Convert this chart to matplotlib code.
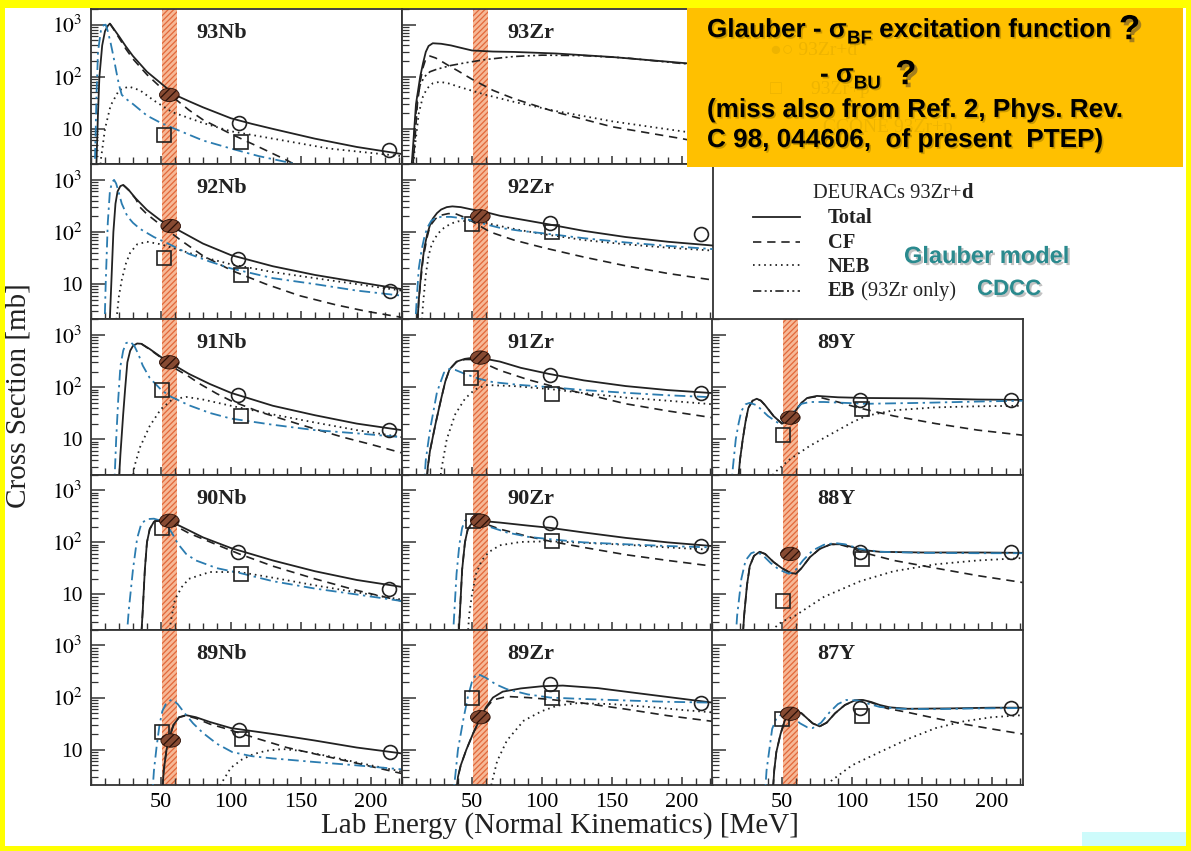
import matplotlib
matplotlib.use("Agg")
import matplotlib.pyplot as plt
import matplotlib.patheffects as pe
from matplotlib.lines import Line2D
from matplotlib.patches import Rectangle
from matplotlib.path import Path
from matplotlib.transforms import Affine2D
from matplotlib.ticker import FixedLocator, MultipleLocator, LogLocator, NullFormatter

plt.rcParams['mathtext.fontset'] = 'stix'
plt.rcParams['hatch.linewidth'] = 0.9

SERIF = 'Liberation Serif'
SANS = 'Liberation Sans'

# ---- excitation functions, (E_lab [MeV], sigma [mb]) ----
nb93_total = [(3.5, 1), (5, 20), (6, 100), (8, 400), (10, 750), (12, 950), (13.5, 1050), (16, 850), (20, 600),
              (25, 380), (30, 250), (40, 125), (50, 75), (60, 45), (70, 34), (80, 26), (100, 16), (115, 12.5),
              (130, 10), (160, 6.5), (190, 4.5), (222, 3.3)]
nb93_cf = [(13.5, 1050), (16, 830), (20, 560), (25, 340), (30, 220), (40, 110), (50, 62), (60, 38), (70, 23),
           (80, 15), (100, 8), (120, 4.5), (140, 2.5), (150, 1.8)]
nb93_neb = [(6, 1), (7, 2.5), (10, 10), (14, 28), (20, 55), (27, 65), (35, 55), (45, 35), (58, 21), (80, 13),
            (100, 9), (130, 6.5), (170, 4.2), (222, 3)]
nb93_glauber = [(2.5, 1), (4, 50), (5, 300), (7, 750), (9, 980), (10.5, 1000), (12, 750), (14, 450), (16, 250),
                (18, 130), (20, 70), (22, 45), (26, 36), (30, 30), (40, 18), (50, 13), (60, 10), (80, 6),
                (100, 4.2), (120, 3), (140, 2.3), (150, 2)]
nb93_circ = [(106, 13), (213, 4)]
nb93_sq = [(52, 7.5), (107, 5.5)]
nb93_band = [(56, 45)]

zr93_total = [(6, 1), (8, 5), (10, 30), (13, 100), (15, 180), (17, 300), (19, 390), (22, 440), (28, 430),
              (35, 400), (42, 360), (50, 320), (65, 305), (80, 300), (110, 280), (150, 240), (200, 185), (222, 165)]
zr93_cf = [(7, 1), (9, 5), (11, 30), (13, 80), (15, 150), (17, 220), (20, 250), (24, 230), (28, 200), (34, 160),
           (40, 130), (50, 90), (65, 55), (80, 38), (110, 21), (150, 11), (200, 6.5), (222, 5)]
zr93_neb = [(7.5, 1), (9, 4), (12, 20), (15, 42), (18, 60), (22, 75), (27, 80), (33, 75), (40, 65), (50, 54),
            (60, 45), (80, 33), (110, 22), (150, 14), (200, 9), (222, 7.5)]
zr93_eb = [(7.5, 1), (9, 10), (11, 40), (13, 70), (16, 100), (20, 125), (25, 140), (35, 165), (45, 185), (60, 215),
           (80, 245), (100, 260), (130, 255), (160, 230), (200, 180), (222, 165)]

nb92_total = [(13, 1), (14.5, 10), (16, 100), (17.5, 350), (19, 600), (21, 760), (23, 800), (25, 720), (27, 640),
              (29, 550), (32, 440), (40, 265), (50, 165), (56, 135), (60, 118), (80, 60), (100, 36), (130, 22),
              (160, 15), (190, 11), (222, 8)]
nb92_cf = [(23, 800), (27, 630), (32, 430), (35, 300), (40, 220), (50, 135), (64, 70), (80, 35), (101, 18),
           (125, 10), (149, 6), (175, 4), (197, 3), (222, 2.3)]
nb92_neb = [(17, 1), (18.5, 2.5), (20, 6), (22, 12), (25, 25), (28, 40), (33, 58), (40, 65), (50, 58), (60, 48),
            (80, 33), (100, 24), (130, 17), (160, 13), (190, 10), (222, 7.5)]
nb92_glauber = [(9.5, 1), (10.5, 10), (12, 150), (13.5, 600), (15, 900), (16.5, 1000), (18, 850), (20, 550),
                (22, 350), (26, 200), (30, 150), (35, 115), (45, 80), (55, 60), (70, 38), (85, 27), (100, 20),
                (130, 13), (160, 10), (190, 7.5), (222, 6)]
nb92_circ = [(105, 30), (214, 7.5)]
nb92_sq = [(52, 32), (107, 15)]
nb92_band = [(57, 130)]

zr92_total = [(10.5, 1), (12, 5), (14, 20), (16, 50), (18, 90), (20, 135), (22, 180), (25, 230), (28, 270),
              (32, 300), (36, 310), (42, 300), (50, 270), (60, 240), (70, 205), (90, 165), (105, 140), (130, 105),
              (160, 80), (190, 65), (222, 55)]
zr92_cf = [(10.5, 1), (12, 5), (15, 30), (18, 80), (20, 130), (24, 180), (28, 210), (33, 225), (38, 225),
           (45, 190), (50, 160), (63, 100), (80, 70), (101, 50), (130, 33), (158, 23), (190, 16), (222, 12)]
zr92_neb = [(13.5, 1), (15, 4), (17, 15), (19, 35), (21, 55), (23, 72), (26, 95), (30, 120), (35, 145), (40, 160),
            (50, 165), (60, 150), (70, 130), (85, 108), (100, 92), (130, 70), (160, 58), (190, 50), (222, 44)]
zr92_glauber = [(9, 1), (10.5, 5), (12, 20), (14, 45), (16, 80), (18, 120), (21, 165), (24, 185), (28, 195),
                (35, 195), (42, 185), (51, 165), (60, 140), (70, 120), (85, 105), (100, 95), (130, 76), (160, 63),
                (190, 54), (222, 47)]
zr92_circ = [(106, 150), (214, 90)]
zr92_sq = [(50, 140), (107, 100)]
zr92_band = [(56, 200)]

nb91_total = [(19.5, 1), (21, 5), (23, 30), (24.5, 100), (26, 300), (28, 500), (30, 620), (33, 690), (36, 680),
              (42, 540), (50, 380), (56, 300), (70, 180), (85, 115), (100, 78), (130, 44), (160, 29), (190, 20),
              (222, 15)]
nb91_cf = [(36, 680), (42, 530), (50, 370), (56, 280), (60, 230), (70, 160), (78, 115), (90, 75), (100, 55),
           (120, 34), (150, 19), (180, 11), (200, 8), (222, 5.5)]
nb91_neb = [(29, 1), (31, 3), (35, 7), (42, 18), (50, 38), (58, 58), (68, 65), (80, 58), (100, 44), (130, 30),
            (160, 21), (190, 15), (222, 11)]
nb91_glauber = [(16.5, 1), (18, 10), (19.5, 60), (21, 250), (23, 500), (25, 700), (28, 750), (31, 620), (34, 420),
                (37, 260), (42, 150), (50, 90), (56, 68), (70, 45), (85, 32), (100, 25), (130, 19), (160, 15),
                (190, 13), (222, 11)]
nb91_circ = [(105, 70), (213, 15)]
nb91_sq = [(51, 90), (107, 28)]
nb91_band = [(56, 300)]

zr91_total = [(17, 1), (18.5, 3), (20, 6), (24, 20), (28, 60), (31, 130), (34, 220), (39, 310), (45, 350),
              (50, 365), (56, 365), (70, 310), (85, 235), (105, 180), (130, 135), (160, 105), (190, 88), (222, 77)]
zr91_cf = [(17, 1), (18.5, 3), (20, 6), (24, 20), (28, 60), (31, 130), (34, 220), (39, 305), (45, 340), (50, 340),
           (56, 310), (70, 210), (90, 140), (106, 107), (130, 75), (160, 48), (190, 35), (222, 26)]
zr91_neb = [(26.5, 1), (28, 2.5), (32, 10), (38, 30), (45, 60), (52, 90), (60, 110), (80, 105), (106, 92),
            (130, 77), (160, 63), (190, 55), (222, 47)]
zr91_glauber = [(15.5, 1), (17, 4), (20, 15), (25, 80), (30, 190), (34, 225), (38, 215), (45, 180), (55, 145),
                (65, 125), (85, 110), (106, 100), (130, 88), (160, 78), (190, 70), (222, 64)]
zr91_circ = [(106, 175), (214, 78)]
zr91_sq = [(49, 150), (107, 75)]
zr91_band = [(56, 370)]

y89_total = [(18, 1), (20, 4), (22, 10), (24, 22), (26, 40), (29, 55), (32, 60), (35, 55), (38, 45), (44, 28),
             (50, 20), (56, 25), (60, 36), (64, 50), (68, 62), (75, 68), (90, 64), (110, 62), (150, 61), (190, 58),
             (222, 57)]
y89_cf = [(18, 1), (20, 4), (22, 10), (24, 22), (26, 40), (29, 55), (32, 60), (35, 55), (38, 45), (44, 28),
          (50, 20), (56, 25), (60, 36), (64, 50), (68, 62), (75, 66), (90, 52), (105, 40), (130, 28), (160, 20),
          (190, 15), (222, 12)]
y89_neb = [(40, 1), (44, 2.2), (55, 4), (70, 7.5), (86, 13), (100, 21), (110, 28), (130, 36), (160, 41), (190, 43),
           (222, 44)]
y89_glauber = [(13.5, 1), (15, 3), (17, 10), (19, 20), (21, 35), (24, 47), (27, 50), (32, 45), (40, 28), (48, 20),
               (55, 25), (60, 38), (64, 48), (70, 52), (80, 52), (110, 48), (150, 50), (190, 53), (222, 55)]
y89_circ = [(106, 56), (214, 57)]
y89_sq = [(51, 12), (107, 38)]
y89_band = [(56, 26)]

nb90_total = [(35.5, 1), (37, 5), (38.5, 30), (40, 100), (42, 180), (45, 250), (50, 270), (55, 265), (60, 230),
              (70, 170), (80, 125), (100, 78), (130, 45), (160, 28), (190, 19), (222, 14)]
nb90_cf = [(35.5, 1), (37, 5), (38.5, 30), (40, 100), (42, 180), (45, 250), (50, 265), (55, 250), (60, 210),
           (70, 150), (90, 90), (106, 60), (130, 35), (160, 20), (190, 12), (222, 7.5)]
nb90_neb = [(55, 1), (57, 3), (60, 8), (65, 14), (70, 20), (85, 27), (106, 27), (130, 21), (160, 15), (190, 11),
            (222, 8)]
nb90_glauber = [(25, 1), (27, 5), (30, 30), (33, 120), (36, 230), (40, 280), (45, 285), (50, 260), (54, 220),
                (58, 150), (62, 95), (68, 60), (75, 45), (90, 32), (106, 26), (130, 18), (160, 13), (190, 10),
                (222, 7.5)]
nb90_circ = [(105, 65), (213, 13)]
nb90_sq = [(51, 190), (107, 25)]
nb90_band = [(56, 260)]

zr90_total = [(40, 1), (41.5, 5), (43, 30), (45, 100), (47, 180), (50, 235), (56, 260), (70, 240), (90, 210),
              (106, 190), (130, 155), (160, 122), (190, 100), (222, 85)]
zr90_cf = [(40, 1), (41.5, 5), (43, 30), (45, 100), (47, 175), (50, 220), (56, 245), (70, 180), (90, 130),
           (106, 105), (130, 80), (160, 58), (190, 45), (222, 35)]
zr90_neb = [(46.5, 1), (48, 4), (50, 10), (53, 25), (57, 45), (62, 65), (70, 88), (85, 102), (106, 105), (130, 98),
            (160, 90), (190, 80), (222, 72)]
zr90_glauber = [(36, 1), (37.5, 5), (39, 25), (41, 90), (43, 190), (45, 260), (48, 290), (52, 280), (60, 210),
                (75, 155), (90, 128), (106, 115), (130, 100), (160, 92), (190, 85), (222, 80)]
zr90_circ = [(106, 235), (214, 85)]
zr90_sq = [(51, 260), (107, 105)]
zr90_band = [(56, 260)]

y88_total = [(21.5, 1), (23, 4), (25, 15), (27, 35), (30, 55), (34, 66), (38, 60), (44, 42), (50, 32), (56, 26),
             (60, 25), (64, 32), (70, 52), (77, 75), (85, 92), (92, 92), (100, 82), (106, 72), (120, 66), (150, 64),
             (190, 64), (222, 63)]
y88_cf = [(21.5, 1), (23, 4), (25, 15), (27, 35), (30, 55), (34, 66), (38, 60), (44, 42), (50, 32), (56, 26),
          (60, 25), (64, 32), (70, 52), (77, 75), (85, 92), (92, 90), (100, 78), (106, 66), (130, 45), (160, 32),
          (190, 23), (222, 17)]
y88_neb = [(39, 1), (42, 2), (50, 3), (60, 4), (80, 9), (106, 18), (130, 28), (160, 38), (190, 45), (222, 50)]
y88_glauber = [(16.5, 1), (18, 4), (21, 20), (24, 45), (28, 62), (31, 66), (36, 58), (42, 40), (48, 30), (55, 25),
               (60, 30), (65, 45), (72, 70), (80, 90), (88, 97), (95, 92), (106, 75), (120, 66), (150, 63),
               (190, 62), (222, 62)]
y88_circ = [(106, 66), (214, 64)]
y88_sq = [(51, 7.5), (107, 47)]
y88_band = [(56, 60)]

nb89_total = [(50.5, 1), (52, 4), (54, 10), (56, 17), (59, 30), (63, 42), (68, 46), (75, 42), (85, 34), (100, 26),
              (130, 20), (160, 15), (190, 11), (222, 8.5)]
nb89_cf = [(50.5, 1), (52, 4), (54, 10), (56, 17), (59, 30), (63, 42), (68, 45), (75, 40), (85, 31), (95, 26),
           (106, 21), (120, 16), (140, 11), (160, 8.3), (190, 5.5), (222, 3.5)]
nb89_neb = [(89, 1), (92, 2), (100, 4.5), (108, 6.5), (116, 8.2), (125, 9.5), (137, 10.3), (150, 9.5), (170, 7.5),
            (190, 5.7), (222, 3.8)]
nb89_glauber = [(43.5, 1), (45, 4), (47, 12), (49, 30), (51, 55), (54, 80), (58, 92), (62, 75), (67, 50), (73, 32),
                (80, 21), (90, 13), (101, 9), (115, 7.5), (130, 6.8), (160, 5.8), (190, 5), (222, 4.2)]
nb89_circ = [(106, 24), (214, 9)]
nb89_sq = [(51, 22), (108, 16)]
nb89_band = [(57, 15)]

zr89_total = [(38.5, 1), (40, 3), (42, 5), (46, 10), (51, 21), (56, 40), (60, 65), (65, 100), (72, 130),
              (85, 150), (100, 165), (115, 170), (140, 152), (170, 120), (200, 95), (222, 80)]
zr89_cf = [(38.5, 1), (40, 3), (42, 5), (46, 10), (51, 21), (56, 40), (60, 62), (65, 90), (75, 105), (90, 100),
           (106, 92), (130, 78), (160, 60), (190, 45), (222, 35)]
zr89_neb = [(62, 1), (64, 2.2), (68, 6), (75, 15), (87, 36), (100, 55), (111, 70), (125, 78), (150, 75),
            (180, 65), (200, 58), (222, 52)]
zr89_glauber = [(36, 1), (38, 3), (40, 10), (44, 40), (47, 100), (50, 200), (53, 280), (56, 270), (60, 240),
                (67, 180), (75, 145), (90, 115), (106, 100), (130, 94), (160, 88), (190, 83), (222, 80)]
zr89_circ = [(106, 185), (214, 80)]
zr89_sq = [(50, 100), (107, 98)]
zr89_band = [(56, 42)]

y87_total = [(43, 1), (44.5, 4), (46, 9), (49, 20), (52, 36), (56, 50), (60, 55), (64, 50), (68, 40), (72, 32),
             (77, 28), (82, 33), (88, 50), (95, 72), (102, 88), (108, 90), (114, 82), (120, 72), (127, 65),
             (140, 61), (170, 62), (200, 64), (222, 64)]
y87_cf = [(43, 1), (44.5, 4), (46, 9), (49, 20), (52, 36), (56, 50), (60, 55), (64, 50), (68, 40), (72, 32),
          (77, 28), (82, 33), (88, 50), (95, 72), (102, 88), (108, 90), (114, 80), (125, 62), (140, 52), (160, 40),
          (180, 31), (200, 25), (222, 20)]
y87_neb = [(79, 1), (85, 2.5), (100, 5), (120, 9), (140, 16), (160, 26), (180, 35), (200, 42), (222, 46)]
y87_glauber = [(37.5, 1), (39, 4), (41, 10), (43, 25), (46, 40), (50, 48), (54, 50), (58, 42), (63, 32), (68, 27),
               (72, 26), (78, 33), (84, 52), (90, 75), (96, 90), (104, 88), (112, 76), (120, 66), (135, 61),
               (160, 60), (190, 62), (222, 63)]
y87_circ = [(106, 63), (214, 64)]
y87_sq = [(50, 38), (107, 45)]
y87_band = [(56, 49)]

# name, row, col, total, cf, neb, glauber, eb, circles, squares, band point
panels = [
    ("93Nb", 0, 0, nb93_total, nb93_cf, nb93_neb, nb93_glauber, None, nb93_circ, nb93_sq, nb93_band),
    ("93Zr", 0, 1, zr93_total, zr93_cf, zr93_neb, None, zr93_eb, [], [], []),
    ("92Nb", 1, 0, nb92_total, nb92_cf, nb92_neb, nb92_glauber, None, nb92_circ, nb92_sq, nb92_band),
    ("92Zr", 1, 1, zr92_total, zr92_cf, zr92_neb, zr92_glauber, None, zr92_circ, zr92_sq, zr92_band),
    ("91Nb", 2, 0, nb91_total, nb91_cf, nb91_neb, nb91_glauber, None, nb91_circ, nb91_sq, nb91_band),
    ("91Zr", 2, 1, zr91_total, zr91_cf, zr91_neb, zr91_glauber, None, zr91_circ, zr91_sq, zr91_band),
    ("89Y", 2, 2, y89_total, y89_cf, y89_neb, y89_glauber, None, y89_circ, y89_sq, y89_band),
    ("90Nb", 3, 0, nb90_total, nb90_cf, nb90_neb, nb90_glauber, None, nb90_circ, nb90_sq, nb90_band),
    ("90Zr", 3, 1, zr90_total, zr90_cf, zr90_neb, zr90_glauber, None, zr90_circ, zr90_sq, zr90_band),
    ("88Y", 3, 2, y88_total, y88_cf, y88_neb, y88_glauber, None, y88_circ, y88_sq, y88_band),
    ("89Nb", 4, 0, nb89_total, nb89_cf, nb89_neb, nb89_glauber, None, nb89_circ, nb89_sq, nb89_band),
    ("89Zr", 4, 1, zr89_total, zr89_cf, zr89_neb, zr89_glauber, None, zr89_circ, zr89_sq, zr89_band),
    ("87Y", 4, 2, y87_total, y87_cf, y87_neb, y87_glauber, None, y87_circ, y87_sq, y87_band),
]

x_ticks = [50, 100, 150, 200]
y_ticks = [10, 100, 1000]
y_ticklabels = ['10', r'$10^2$', r'$10^3$']
band_range = (51, 61.5)

W, H = 1191, 851
COL_X = [91, 402, 712]
ROW_Y = [9, 164.2, 319.4, 474.6, 629.8]
PW, PH = 310.5, 155.2

INK = '#222222'
BLUE = '#2b7cb0'
STYLE_TOTAL = dict(color=INK, lw=1.3, ls='-')
STYLE_CF = dict(color=INK, lw=1.2, ls=(0, (5, 3.5)))
STYLE_NEB = dict(color=INK, lw=1.3, ls=(0, (0.9, 2.2)))
STYLE_GL = dict(color=BLUE, lw=1.3, ls=(0, (6, 2.5, 1.3, 2.5)))
STYLE_EB = dict(color=INK, lw=1.2, ls=(0, (5, 2, 1.2, 2, 1.2, 2)))

ellipse_marker = Path.unit_circle().transformed(Affine2D().scale(1.0, 0.68))


def curve(ax, pts, style):
    if not pts:
        return
    e, v = zip(*pts)
    ax.plot(e, v, zorder=3, **style)


fig = plt.figure(figsize=(W / 100, H / 100), dpi=100, facecolor='white')

for name, r, c, tot, cf, neb, gl, eb, circ, sq, band in panels:
    ax = fig.add_axes([COL_X[c] / W, 1 - (ROW_Y[r] + PH) / H, PW / W, PH / H])
    ax.set_yscale('log')
    ax.set_xlim(0, 222)
    ax.set_ylim(2.1, 2000)
    ax.axvspan(*band_range, facecolor='#f6b896', edgecolor='#e2683a', hatch='//////', lw=0, zorder=1)

    curve(ax, tot, STYLE_TOTAL)
    curve(ax, cf, STYLE_CF)
    curve(ax, neb, STYLE_NEB)
    curve(ax, gl, STYLE_GL)
    curve(ax, eb, STYLE_EB)

    if circ:
        e, v = zip(*circ)
        ax.plot(e, v, 'o', mfc='none', mec=INK, ms=10, mew=1.2, zorder=4, clip_on=False)
    if sq:
        e, v = zip(*sq)
        ax.plot(e, v, 's', mfc='none', mec=INK, ms=9.5, mew=1.2, zorder=4)
    if band:
        e, v = zip(*band)
        ax.scatter(e, v, s=200, marker=ellipse_marker, facecolor='#874a32', edgecolor='#2a1008',
                   hatch='////', linewidths=0.6, zorder=5)

    ax.text(0.34, 0.845, name, transform=ax.transAxes, family=SERIF, fontweight='bold',
            fontsize=16, va='center', ha='left', color=INK)

    ax.xaxis.set_major_locator(FixedLocator(x_ticks))
    ax.xaxis.set_minor_locator(MultipleLocator(10))
    ax.yaxis.set_major_locator(FixedLocator(y_ticks))
    ax.yaxis.set_minor_locator(LogLocator(base=10, subs=range(2, 10), numticks=20))
    ax.yaxis.set_minor_formatter(NullFormatter())
    ax.tick_params(which='both', direction='in', top=False, right=False, color='#333333')
    ax.tick_params(axis='x', which='major', length=6, width=1.1)
    ax.tick_params(axis='x', which='minor', length=5, width=1.0)
    ax.tick_params(axis='y', which='major', length=10, width=1.1)
    ax.tick_params(axis='y', which='minor', length=5, width=0.9)
    for sp in ax.spines.values():
        sp.set_linewidth(1.3)
        sp.set_color('#333333')

    if r == 4:
        ax.set_xticklabels([str(t) for t in x_ticks], family=SERIF, fontsize=16)
        ax.tick_params(axis='x', pad=6)
    else:
        ax.set_xticklabels([])
    if c == 0:
        ax.set_yticklabels(y_ticklabels, family=SERIF, fontsize=15.5)
        ax.tick_params(axis='y', pad=6)
    else:
        ax.set_yticklabels([])

fig.text(560 / W, 1 - 826 / H, 'Lab Energy (Normal Kinematics) [MeV]', family=SERIF, fontsize=21,
         ha='center', va='center', color=INK)
fig.text(19 / W, 1 - 396 / H, 'Cross Section [mb]', family=SERIF, fontsize=21, rotation=90,
         ha='center', va='center', color=INK)

# ---- slide overlay in pixel coordinates ----
ov = fig.add_axes([0, 0, 1, 1], zorder=10)
ov.set_xlim(0, W)
ov.set_ylim(H, 0)
ov.axis('off')

# DEURACs legend
head = ov.text(813, 198, 'DEURACs 93Zr+', family=SERIF, fontsize=14.8, color=INK, va='baseline')
ov.annotate('d', xy=(1, 0), xycoords=head, family=SERIF, fontsize=14.8, fontweight='bold',
            color=INK, va='bottom')
legend_rows = [
    (216.5, STYLE_TOTAL, 'Total', 223),
    (242, STYLE_CF, 'CF', 248),
    (264.5, STYLE_NEB, 'NEB', 272),
    (291, STYLE_EB, 'EB', 296),
]
for ly, st, lab, base in legend_rows:
    ov.add_line(Line2D([753, 800], [ly, ly], **st))
    t = ov.text(828, base, lab, family=SERIF, fontsize=14.8, fontweight='bold', color=INK, va='baseline')
ov.annotate(' (93Zr only)', xy=(1, 0), xycoords=t, family=SERIF, fontsize=14.8, color=INK, va='bottom')

teal_fx = [pe.SimplePatchShadow(offset=(1.5, -1.5), shadow_rgbFace='#9a9a9a', alpha=0.6), pe.Normal()]
ov.text(904, 263, 'Glauber model', family=SANS, fontweight='bold', fontsize=17, color='#2a8a8e',
        va='baseline', path_effects=teal_fx)
ov.text(977, 295, 'CDCC', family=SANS, fontweight='bold', fontsize=16, color='#2a8a8e',
        va='baseline', path_effects=teal_fx)

# orange note box, with the data legend faintly showing through
ov.add_patch(Rectangle((687, 7), 496, 160, facecolor='#ffc000', edgecolor='none', zorder=2))
ghost = '#eeb400'
ov.text(770, 55, '●○ 93Zr+d', family=SERIF, fontsize=14, color=ghost, va='baseline', zorder=3)
ov.text(770, 94, '□      93Zr+p', family=SERIF, fontsize=14, color=ghost, va='baseline', zorder=3)
ov.text(823, 132, 'CCONE 93Zr+p', family=SERIF, fontsize=14, color=ghost, va='baseline', zorder=3)

note_fx = [pe.SimplePatchShadow(offset=(1.2, -1.2), shadow_rgbFace='#8a6a00', alpha=0.45), pe.Normal()]
q_fx = [pe.SimplePatchShadow(offset=(2.2, -2.2), shadow_rgbFace='#6a5530', alpha=0.6), pe.Normal()]
note = dict(family=SANS, fontweight='bold', color='black', zorder=4)
NOTE_SIZE = 18.8


def chain(x, y, pieces):
    prev = ov.text(x, y, pieces[0][0], fontsize=pieces[0][1], va='baseline', path_effects=note_fx, **note)
    for txt, size, dy, fx in pieces[1:]:
        prev = ov.annotate(txt, xy=(1, 0), xycoords=prev, xytext=(0, dy), textcoords='offset points',
                           fontsize=size, va='bottom', path_effects=fx, **note)


chain(707, 37, [('Glauber - σ', NOTE_SIZE), ('BF', 13.5, -4, note_fx),
                (' excitation function ', NOTE_SIZE, 4, note_fx), ('?', 25, -3, q_fx)])
chain(820, 82, [('- σ', NOTE_SIZE), ('BU', 13.5, -4, note_fx), ('  ', NOTE_SIZE, 4, note_fx), ('?', 25, -3, q_fx)])
ov.text(707, 117, '(miss also from Ref. 2, Phys. Rev.', fontsize=NOTE_SIZE, va='baseline',
        path_effects=note_fx, **note)
ov.text(707, 147, 'C 98, 044606,  of present  PTEP)', fontsize=NOTE_SIZE, va='baseline',
        path_effects=note_fx, **note)

# slide frame
yellow = '#ffff00'
for rx, ry, rw, rh in [(0, 0, W, 7.5), (0, 0, 5, H), (W - 5, 0, 5, H), (0, H - 5.5, W, 5.5)]:
    ov.add_patch(Rectangle((rx, ry), rw, rh, facecolor=yellow, edgecolor='none', zorder=6))
ov.add_patch(Rectangle((1082, 832), W - 5 - 1082, H - 5.5 - 832, facecolor='#cdfbfb', edgecolor='none', zorder=5))

fig.savefig('out.png', dpi=100, facecolor='white')
